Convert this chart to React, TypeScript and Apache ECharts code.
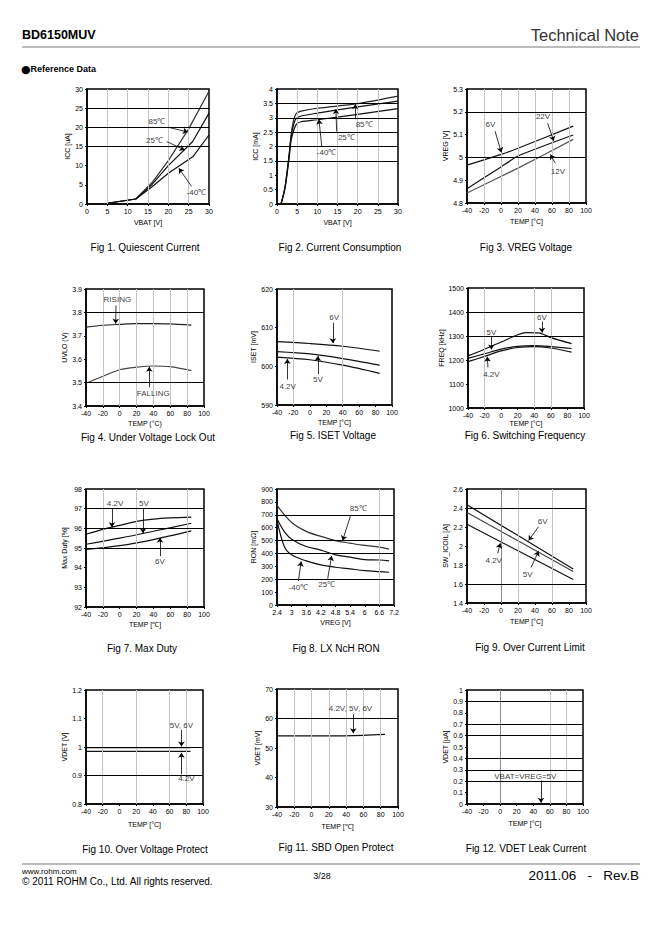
import React, { useEffect, useRef } from "react";
import * as echarts from "echarts";

const FONT = "'Liberation Sans', Arial, sans-serif";

// ---------- Data ----------
// Fig 1: Quiescent current ICC [uA] vs VBAT [V]
const fig1Icc85C = [[5, 0.2], [12, 1.3], [16, 5.6], [20, 11.3], [25, 19.6], [30, 29.4]];
const fig1Icc25C = [[5, 0.2], [12, 1.3], [16, 5.1], [20, 10], [26, 16.3], [30, 23.7]];
const fig1IccM40C = [[5, 0.2], [12, 1.3], [16, 4.5], [20, 8.0], [26, 12.3], [30, 18]];

// Fig 2: Current consumption ICC [mA] vs VBAT [V]
const fig2Icc85C = [[1, 0], [2, 0.6], [3, 1.7], [3.5, 2.4], [4, 2.85], [4.5, 3.08], [5, 3.17], [6, 3.23], [10, 3.33], [20, 3.49], [30, 3.75]];
const fig2Icc25C = [[1, 0], [2, 0.6], [3, 1.7], [3.5, 2.35], [4, 2.7], [4.5, 2.92], [5, 3.0], [6, 3.06], [10, 3.16], [20, 3.38], [30, 3.58]];
const fig2IccM40C = [[1, 0], [2, 0.55], [3, 1.6], [3.5, 2.2], [4, 2.5], [4.5, 2.7], [5, 2.8], [6, 2.86], [10, 2.93], [20, 3.12], [30, 3.32]];

// Fig 3: VREG [V] vs TEMP
const fig3Vreg6V = [[-40, 4.966], [0, 5.013], [20, 5.04], [85, 5.137]];
const fig3Vreg22V = [[-40, 4.863], [0, 4.958], [20, 5.006], [85, 5.098]];
const fig3Vreg12V = [[-40, 4.844], [20, 4.953], [85, 5.079]];

// Fig 4: UVLO (V) vs TEMP
const fig4Rising = [[-40, 3.737], [-20, 3.745], [0, 3.749], [20, 3.752], [40, 3.752], [60, 3.751], [85, 3.746]];
const fig4Falling = [[-40, 3.497], [-20, 3.527], [0, 3.555], [20, 3.566], [40, 3.571], [60, 3.568], [85, 3.551]];

// Fig 5: ISET [mV] vs TEMP
const fig5Iset6V = [[-40, 606.4], [0, 605.9], [40, 605.2], [85, 603.9]];
const fig5Iset5V = [[-40, 603.8], [0, 603.2], [40, 602.0], [85, 600.3]];
const fig5Iset42V = [[-40, 602.4], [0, 601.7], [40, 600.3], [85, 598.2]];

// Fig 6: FREQ [kHz] vs TEMP
const fig6FreqTop = [[-40, 1217], [-20, 1245], [0, 1275], [20, 1305], [30, 1314], [45, 1313], [60, 1293], [85, 1268]];
const fig6FreqMid = [[-40, 1207], [-20, 1226], [0, 1245], [20, 1257], [40, 1260], [60, 1256], [85, 1248]];
const fig6FreqBot = [[-40, 1193], [-20, 1215], [0, 1238], [20, 1252], [40, 1256], [60, 1250], [85, 1233]];

// Fig 7: Max Duty [%] vs TEMP
const fig7Duty42V = [[-40, 95.7], [-20, 95.95], [0, 96.15], [20, 96.35], [40, 96.47], [60, 96.53], [85, 96.57]];
const fig7Duty5V = [[-40, 95.19], [0, 95.5], [40, 95.85], [85, 96.26]];
const fig7Duty6V = [[-40, 94.93], [0, 95.12], [40, 95.43], [85, 95.87]];

// Fig 8: RON [mOhm] vs VREG [V]
const fig8Ron85C = [[2.4, 773], [3.0, 640], [3.6, 571], [4.2, 532], [4.8, 500], [5.4, 480], [6.0, 462], [6.6, 449], [7.0, 433]];
const fig8Ron25C = [[2.4, 669], [2.7, 570], [3.0, 511], [3.6, 454], [4.2, 426], [4.8, 389], [5.4, 371], [6.0, 352], [6.6, 349], [7.0, 343]];
const fig8RonM40C = [[2.4, 661], [2.7, 454], [3.0, 389], [3.6, 342], [4.2, 311], [4.8, 293], [5.4, 280], [6.0, 267], [6.6, 259], [7.0, 254]];

// Fig 9: SW_ICOIL [A] vs TEMP
const fig9Icoil6V = [[-40, 2.434], [20, 2.11], [85, 1.757]];
const fig9Icoil5V = [[-40, 2.353], [20, 2.055], [85, 1.732]];
const fig9Icoil42V = [[-40, 2.229], [20, 1.95], [85, 1.647]];

// Fig 10: VDET [V] vs TEMP
const fig10Vdet56V = [[-40, 0.998], [85, 0.998]];
const fig10Vdet42V = [[-40, 0.985], [85, 0.985]];

// Fig 11: VDET [mV] vs TEMP
const fig11Vdet = [[-40, 54.1], [20, 54.1], [60, 54.3], [85, 54.6]];

// Fig 12: VDET leak [uA] vs TEMP
const fig12Leak = [[-40, 0], [85, 0]];

// ---------- Layout ----------
type Note = { t: string; at: number[]; from: number[]; to: number[] };
type Fig = {
  grid: { left: number; top: number; width: number; height: number };
  x: { min: number; max: number; interval: number; name: string; gap: number };
  y: { min: number; max: number; interval: number; name: string; gap: number };
  h: number[];
  v: number[];
  vDark?: number[];
  series: { data: number[][]; color: string; smooth: number | boolean }[];
  notes: Note[];
  caption: { text: string; x: number; y: number };
};

const TEMP_X = (name: string, gap: number) => ({ min: -40, max: 100, interval: 20, name, gap });

const figs: Fig[] = [
  {
    grid: { left: 87, top: 89, width: 122, height: 115 },
    x: { min: 0, max: 30, interval: 5, name: "VBAT [V]", gap: 15 },
    y: { min: 0, max: 30, interval: 5, name: "ICC [uA]", gap: 15 },
    h: [15, 20, 25], v: [5, 10, 15, 20, 25],
    series: [
      { data: fig1Icc85C, color: "#333", smooth: false },
      { data: fig1Icc25C, color: "#111", smooth: false },
      { data: fig1IccM40C, color: "#111", smooth: false },
    ],
    notes: [
      { t: "85℃", at: [17.2, 21.4], from: [20, 20], to: [24.8, 18.8] },
      { t: "25℃", at: [16.6, 16.6], from: [19.6, 16.3], to: [24, 14.1] },
      { t: "-40℃", at: [26.9, 2.9], from: [25.7, 4.6], to: [22.6, 9.3] },
    ],
    caption: { text: "Fig 1. Quiescent Current", x: 145, y: 247 },
  },
  {
    grid: { left: 277, top: 89, width: 121, height: 115 },
    x: { min: 0, max: 30, interval: 5, name: "VBAT [V]", gap: 15 },
    y: { min: 0, max: 4, interval: 0.5, name: "ICC [mA]", gap: 14 },
    h: [1.5, 2, 2.5, 3, 3.5], v: [5, 10, 15, 20, 25],
    series: [
      { data: fig2Icc85C, color: "#222", smooth: 0.3 },
      { data: fig2Icc25C, color: "#111", smooth: 0.3 },
      { data: fig2IccM40C, color: "#111", smooth: 0.3 },
    ],
    notes: [
      { t: "85℃", at: [21.6, 2.77], from: [19.4, 2.95], to: [19.4, 3.47] },
      { t: "25℃", at: [17.2, 2.32], from: [14.8, 2.52], to: [14.6, 3.3] },
      { t: "-40℃", at: [12.3, 1.79], from: [11.1, 2.0], to: [10.4, 2.94] },
    ],
    caption: { text: "Fig 2. Current Consumption", x: 340, y: 247 },
  },
  {
    grid: { left: 467, top: 89, width: 119, height: 114 },
    x: TEMP_X("TEMP [°C]", 15),
    y: { min: 4.8, max: 5.3, interval: 0.1, name: "VREG [V]", gap: 12 },
    h: [5.0, 5.2], v: [-20, 0, 20, 40, 60, 80],
    series: [
      { data: fig3Vreg6V, color: "#111", smooth: 0.2 },
      { data: fig3Vreg22V, color: "#111", smooth: 0.2 },
      { data: fig3Vreg12V, color: "#555", smooth: 0.2 },
    ],
    notes: [
      { t: "6V", at: [-12.5, 5.143], from: [-7, 5.115], to: [0.4, 5.022] },
      { t: "22V", at: [49.4, 5.179], from: [54.9, 5.15], to: [62, 5.072] },
      { t: "12V", at: [67, 4.94], from: [63.9, 4.974], to: [58, 5.013] },
    ],
    caption: { text: "Fig 3. VREG Voltage", x: 526, y: 247 },
  },
  {
    grid: { left: 86, top: 289, width: 118, height: 117 },
    x: TEMP_X("TEMP (°C)", 14),
    y: { min: 3.4, max: 3.9, interval: 0.1, name: "UVLO (V)", gap: 17 },
    h: [3.5, 3.8], v: [-20, 0, 20, 40, 60, 80],
    series: [
      { data: fig4Rising, color: "#222", smooth: 0.3 },
      { data: fig4Falling, color: "#444", smooth: 0.3 },
    ],
    notes: [
      { t: "RISING", at: [-2.8, 3.857], from: [-4.4, 3.829], to: [-4.8, 3.752] },
      { t: "FALLING", at: [39.8, 3.454], from: [35.1, 3.48], to: [35.1, 3.568] },
    ],
    caption: { text: "Fig 4. Under Voltage Lock Out", x: 148, y: 437 },
  },
  {
    grid: { left: 277, top: 289, width: 115, height: 116 },
    x: TEMP_X("TEMP [°C]", 14),
    y: { min: 590, max: 620, interval: 10, name: "ISET [mV]", gap: 16 },
    h: [], v: [-20, 40],
    series: [
      { data: fig5Iset6V, color: "#111", smooth: 0.3 },
      { data: fig5Iset5V, color: "#111", smooth: 0.3 },
      { data: fig5Iset42V, color: "#111", smooth: 0.3 },
    ],
    notes: [
      { t: "6V", at: [29.6, 612.6], from: [28, 611.3], to: [28, 606.0] },
      { t: "5V", at: [9.7, 596.5], from: [9.7, 598], to: [9.7, 602.7] },
      { t: "4.2V", at: [-27, 594.9], from: [-27.4, 596.6], to: [-27.4, 601.9] },
    ],
    caption: { text: "Fig 5. ISET Voltage", x: 333, y: 435 },
  },
  {
    grid: { left: 468, top: 288, width: 116, height: 120 },
    x: TEMP_X("TEMP [°C]", 12),
    y: { min: 1000, max: 1500, interval: 100, name: "FREQ [kHz]", gap: 17 },
    h: [1300, 1400], v: [-20, 40, 60],
    series: [
      { data: fig6FreqTop, color: "#111", smooth: 0.3 },
      { data: fig6FreqMid, color: "#111", smooth: 0.3 },
      { data: fig6FreqBot, color: "#111", smooth: 0.3 },
    ],
    notes: [
      { t: "5V", at: [-11.8, 1314], from: [-11.8, 1297], to: [-11.8, 1244] },
      { t: "6V", at: [49.3, 1378], from: [49.3, 1360], to: [49.3, 1314] },
      { t: "4.2V", at: [-11.8, 1140], from: [-15.9, 1169], to: [-16.7, 1214] },
    ],
    caption: { text: "Fig 6. Switching Frequency", x: 525, y: 435 },
  },
  {
    grid: { left: 86, top: 489, width: 118, height: 118 },
    x: TEMP_X("TEMP [℃]", 14),
    y: { min: 92, max: 98, interval: 1, name: "Max Duty [%]", gap: 18 },
    h: [95, 96, 97], v: [-20, 20, 80],
    series: [
      { data: fig7Duty42V, color: "#111", smooth: 0.3 },
      { data: fig7Duty5V, color: "#111", smooth: 0.3 },
      { data: fig7Duty6V, color: "#111", smooth: 0.3 },
    ],
    notes: [
      { t: "4.2V", at: [-5.6, 97.25], from: [-9.2, 96.98], to: [-9.2, 96.05] },
      { t: "5V", at: [28.8, 97.25], from: [27.6, 96.98], to: [27.6, 95.75] },
      { t: "6V", at: [47.8, 94.3], from: [47.8, 94.59], to: [47.8, 95.52] },
    ],
    caption: { text: "Fig 7. Max Duty", x: 142, y: 648 },
  },
  {
    grid: { left: 277, top: 489, width: 117, height: 116 },
    x: { min: 2.4, max: 7.2, interval: 0.6, name: "VREG [V]", gap: 14 },
    y: { min: 0, max: 900, interval: 100, name: "RON [mΩ]", gap: 17 },
    h: [200, 400, 500, 700], v: [6.6],
    series: [
      { data: fig8Ron85C, color: "#333", smooth: 0.35 },
      { data: fig8Ron25C, color: "#111", smooth: 0.35 },
      { data: fig8RonM40C, color: "#111", smooth: 0.35 },
    ],
    notes: [
      { t: "85℃", at: [5.73, 752], from: [5.43, 700], to: [5.09, 500] },
      { t: "25℃", at: [4.44, 156], from: [4.48, 205], to: [4.64, 381] },
      { t: "-40℃", at: [3.28, 137], from: [3.28, 187], to: [3.39, 337] },
    ],
    caption: { text: "Fig 8. LX NcH RON", x: 336, y: 648 },
  },
  {
    grid: { left: 467, top: 489, width: 119, height: 114 },
    x: TEMP_X("TEMP [°C]", 15),
    y: { min: 1.4, max: 2.6, interval: 0.2, name: "SW_ICOIL [A]", gap: 17 },
    h: [1.6, 2.4], v: [20, 60], vDark: [0],
    series: [
      { data: fig9Icoil6V, color: "#111", smooth: false },
      { data: fig9Icoil5V, color: "#444", smooth: false },
      { data: fig9Icoil42V, color: "#111", smooth: false },
    ],
    notes: [
      { t: "6V", at: [49, 2.258], from: [44.3, 2.205], to: [32.5, 2.058] },
      { t: "4.2V", at: [-8.6, 1.852], from: [-3.9, 1.922], to: [-0.8, 2.028] },
      { t: "5V", at: [31.4, 1.704], from: [35.3, 1.774], to: [44.3, 1.945] },
    ],
    caption: { text: "Fig 9. Over Current Limit", x: 530, y: 647 },
  },
  {
    grid: { left: 86, top: 690, width: 117, height: 114 },
    x: TEMP_X("TEMP [°C]", 17),
    y: { min: 0.8, max: 1.2, interval: 0.1, name: "VDET [V]", gap: 16 },
    h: [0.9, 1.0], v: [-20, 20, 60, 80],
    series: [
      { data: fig10Vdet56V, color: "#111", smooth: false },
      { data: fig10Vdet42V, color: "#111", smooth: false },
    ],
    notes: [
      { t: "5V, 6V", at: [74.2, 1.077], from: [74.2, 1.06], to: [74.2, 1.002] },
      { t: "4.2V", at: [80.1, 0.888], from: [74.2, 0.905], to: [74.2, 0.98] },
    ],
    caption: { text: "Fig 10. Over Voltage Protect", x: 145, y: 849 },
  },
  {
    grid: { left: 277, top: 689, width: 121, height: 118 },
    x: TEMP_X("TEMP [℃]", 16),
    y: { min: 30, max: 70, interval: 10, name: "VDET [mV]", gap: 14 },
    h: [60], v: [-20, 0, 20, 40, 60, 80],
    series: [{ data: fig11Vdet, color: "#111", smooth: 0.3 }],
    notes: [{ t: "4.2V, 5V, 6V", at: [45, 63.4], from: [48.2, 61.4], to: [48.2, 55.0] }],
    caption: { text: "Fig 11. SBD Open Protect", x: 336, y: 847 },
  },
  {
    grid: { left: 467, top: 690, width: 116, height: 114 },
    x: TEMP_X("TEMP [°C]", 16),
    y: { min: 0, max: 1, interval: 0.1, name: "VDET [μA]", gap: 14 },
    h: [0.2, 0.3, 0.4, 0.6, 0.7, 0.9], v: [60, 80], vDark: [0],
    series: [{ data: fig12Leak, color: "#111", smooth: false }],
    notes: [{ t: "VBAT=VREG=5V", at: [30.4, 0.242], from: [49.3, 0.207], to: [49.3, 0.012] }],
    caption: { text: "Fig 12. VDET Leak Current", x: 526, y: 848 },
  },
];

const fmt = (v: number) => String(+Number(v).toFixed(6));

function buildOption() {
  const grid: any[] = [];
  const xAxis: any[] = [];
  const yAxis: any[] = [];
  const series: any[] = [];
  const graphic: any[] = [];

  const axisCommon = {
    type: "value",
    nameLocation: "middle",
    nameTextStyle: { fontSize: 7, color: "#000", fontFamily: FONT },
    axisLine: { show: true, onZero: false, lineStyle: { color: "#000", width: 1.5 } },
    axisTick: { show: true, length: 2, lineStyle: { color: "#000", width: 1 } },
    axisLabel: { fontSize: 7, color: "#000", fontFamily: FONT, margin: 4, formatter: fmt },
    splitLine: { show: false },
  };

  figs.forEach((f, i) => {
    grid.push({ ...f.grid, show: true, borderColor: "#000", borderWidth: 1.5, backgroundColor: "#fff" });
    xAxis.push({
      ...axisCommon,
      gridIndex: i,
      min: f.x.min,
      max: f.x.max,
      interval: f.x.interval,
      name: f.x.name,
      nameGap: f.x.gap,
    });
    yAxis.push({
      ...axisCommon,
      gridIndex: i,
      min: f.y.min,
      max: f.y.max,
      interval: f.y.interval,
      name: f.y.name,
      nameGap: f.y.gap,
      nameRotate: 90,
    });

    const gridLines: any[] = [
      ...f.v.map((v) => ({ xAxis: v, lineStyle: { color: "#c4c4c4", width: 1, type: "solid" } })),
      ...(f.vDark || []).map((v) => ({ xAxis: v, lineStyle: { color: "#8a8a8a", width: 1, type: "solid" } })),
      ...f.h.map((v) => ({ yAxis: v, lineStyle: { color: "#000", width: 1.2, type: "solid" } })),
    ];
    series.push({
      type: "line",
      xAxisIndex: i,
      yAxisIndex: i,
      data: [],
      silent: true,
      z: 1,
      markLine: { silent: true, symbol: "none", label: { show: false }, data: gridLines, animation: false },
    });

    f.series.forEach((s) => {
      series.push({
        type: "line",
        xAxisIndex: i,
        yAxisIndex: i,
        data: s.data,
        symbol: "none",
        smooth: s.smooth,
        silent: true,
        z: 3,
        lineStyle: { color: s.color, width: 1.2 },
      });
    });

    series.push({
      type: "line",
      xAxisIndex: i,
      yAxisIndex: i,
      data: [],
      silent: true,
      z: 4,
      markLine: {
        silent: true,
        symbol: ["none", "arrow"],
        symbolSize: 5,
        label: { show: false },
        lineStyle: { color: "#000", width: 0.8, type: "solid" },
        data: f.notes.map((n) => [{ coord: n.from }, { coord: n.to }]),
        animation: false,
      },
    });

    series.push({
      type: "scatter",
      xAxisIndex: i,
      yAxisIndex: i,
      silent: true,
      z: 5,
      symbolSize: 1,
      itemStyle: { color: "rgba(0,0,0,0)" },
      data: f.notes.map((n) => ({ name: n.t, value: n.at })),
      label: {
        show: true,
        position: "inside",
        formatter: "{b}",
        fontSize: 8,
        color: "#000",
        textBorderWidth: 0,
        fontFamily: FONT,
      },
    });

    graphic.push({
      type: "text",
      x: f.caption.x,
      y: f.caption.y,
      style: {
        text: f.caption.text,
        fontSize: 10,
        fontFamily: FONT,
        fill: "#000",
        align: "center",
        verticalAlign: "middle",
      },
    });
  });

  // Header and footer
  graphic.push(
    {
      type: "text",
      x: 22,
      y: 35,
      style: { text: "BD6150MUV", fontSize: 12.5, fontWeight: "bold", fontFamily: FONT, fill: "#000", verticalAlign: "middle" },
    },
    {
      type: "text",
      x: 639,
      y: 35,
      style: { text: "Technical Note", fontSize: 16.5, fontFamily: FONT, fill: "#333", align: "right", verticalAlign: "middle" },
    },
    { type: "line", shape: { x1: 22, y1: 47, x2: 640, y2: 47 }, style: { stroke: "#555", lineWidth: 0.8 } },
    {
      type: "text",
      x: 21,
      y: 69,
      style: {
        text: "{b|●}{t|Reference Data}",
        fontFamily: FONT,
        verticalAlign: "middle",
        rich: {
          b: { fontSize: 11, fill: "#000", fontFamily: "'DejaVu Sans', sans-serif", verticalAlign: "middle" },
          t: { fontSize: 9, fontWeight: "bold", fill: "#000", fontFamily: FONT, verticalAlign: "middle" },
        },
      },
    },
    { type: "line", shape: { x1: 22, y1: 864, x2: 640, y2: 864 }, style: { stroke: "#555", lineWidth: 0.8 } },
    {
      type: "text",
      x: 22,
      y: 871,
      style: { text: "www.rohm.com", fontSize: 8, fontFamily: FONT, fill: "#000", verticalAlign: "middle" },
    },
    {
      type: "text",
      x: 22,
      y: 881,
      style: { text: "© 2011 ROHM Co., Ltd. All rights reserved.", fontSize: 10, fontFamily: FONT, fill: "#000", verticalAlign: "middle" },
    },
    {
      type: "text",
      x: 322,
      y: 876,
      style: { text: "3/28", fontSize: 9, fontFamily: FONT, fill: "#000", align: "center", verticalAlign: "middle" },
    },
    {
      type: "text",
      x: 639,
      y: 875,
      style: { text: "2011.06   -   Rev.B", fontSize: 13.5, fontFamily: FONT, fill: "#000", align: "right", verticalAlign: "middle" },
    }
  );

  return {
    animation: false,
    backgroundColor: "#fff",
    textStyle: { fontFamily: FONT },
    grid,
    xAxis,
    yAxis,
    series,
    graphic,
  };
}

export default function App() {
  const ref = useRef<HTMLDivElement>(null);
  useEffect(() => {
    if (!ref.current) return;
    const chart = echarts.init(ref.current, null, { renderer: "svg" });
    chart.setOption(buildOption() as any);
    return () => chart.dispose();
  }, []);
  return (
    <div
      ref={ref}
      style={{ position: "absolute", left: 0, top: 0, width: 662, height: 936, background: "#fff" }}
    />
  );
}
